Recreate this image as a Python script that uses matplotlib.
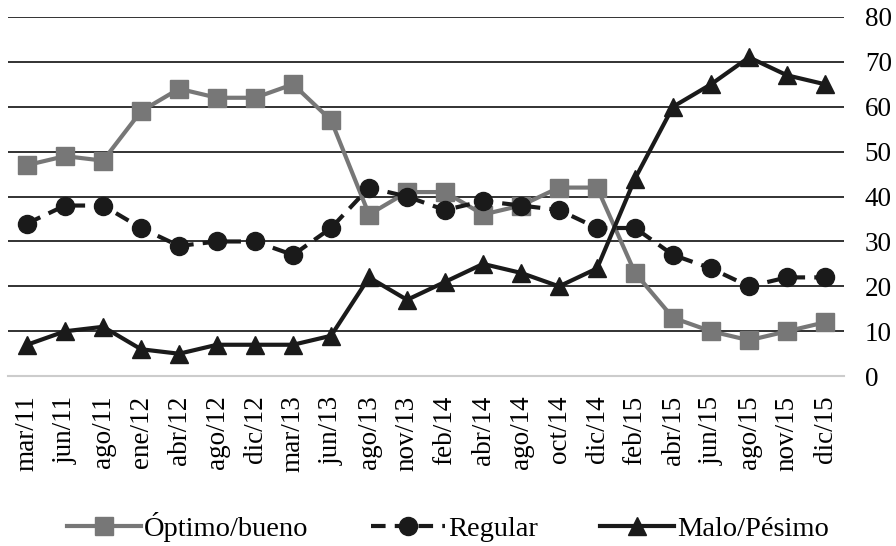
import matplotlib.pyplot as plt
import numpy as np

plt.rcParams['font.family'] = ['Liberation Serif', 'DejaVu Serif']

periodos = ['mar/11', 'jun/11', 'ago/11', 'ene/12', 'abr/12', 'ago/12', 'dic/12',
            'mar/13', 'jun/13', 'ago/13', 'nov/13', 'feb/14', 'abr/14', 'ago/14',
            'oct/14', 'dic/14', 'feb/15', 'abr/15', 'jun/15', 'ago/15', 'nov/15', 'dic/15']

optimo_bueno = [47, 49, 48, 59, 64, 62, 62, 65, 57, 36, 41, 41, 36, 38, 42, 42, 23, 13, 10, 8, 10, 12]
regular = [34, 38, 38, 33, 29, 30, 30, 27, 33, 42, 40, 37, 39, 38, 37, 33, 33, 27, 24, 20, 22, 22]
malo_pesimo = [7, 10, 11, 6, 5, 7, 7, 7, 9, 22, 17, 21, 25, 23, 20, 24, 44, 60, 65, 71, 67, 65]

x = np.arange(len(periodos))

fig, ax = plt.subplots(figsize=(8.96, 5.46), dpi=100)
fig.subplots_adjust(left=0.009, right=0.942, top=0.969, bottom=0.311)

ax.plot(x, optimo_bueno, color='#777777', lw=3, marker='s', markersize=13,
        label='Óptimo/bueno', zorder=3)
ax.plot(x, regular, color='#1a1a1a', lw=3, ls=(0, (3.5, 2.2)), marker='o', markersize=13,
        label='Regular', zorder=4)
ax.plot(x, malo_pesimo, color='#1a1a1a', lw=3, marker='^', markersize=13,
        label='Malo/Pésimo', zorder=5)

ax.set_xlim(-0.5, len(periodos) - 0.5)
ax.set_ylim(0, 80)
ax.set_yticks(range(0, 81, 10))
ax.yaxis.tick_right()
ax.grid(axis='y', color='#222222', lw=1.3)
ax.set_axisbelow(True)

for s in ['top', 'left', 'right']:
    ax.spines[s].set_visible(False)
ax.spines['bottom'].set_color('#cccccc')
ax.spines['bottom'].set_linewidth(1.5)

ax.set_xticks(x)
ax.set_xticklabels(periodos, rotation=90, fontsize=19.5)
ax.tick_params(axis='x', length=0, pad=14)
ax.tick_params(axis='y', length=0, pad=15, labelsize=19.5)

fig.legend(loc='center', ncol=3, frameon=False, fontsize=20.5,
           bbox_to_anchor=(0.5, 0.035), handlelength=2.6, columnspacing=2.2,
           handletextpad=0.1)

fig.savefig('out.png', dpi=100)
